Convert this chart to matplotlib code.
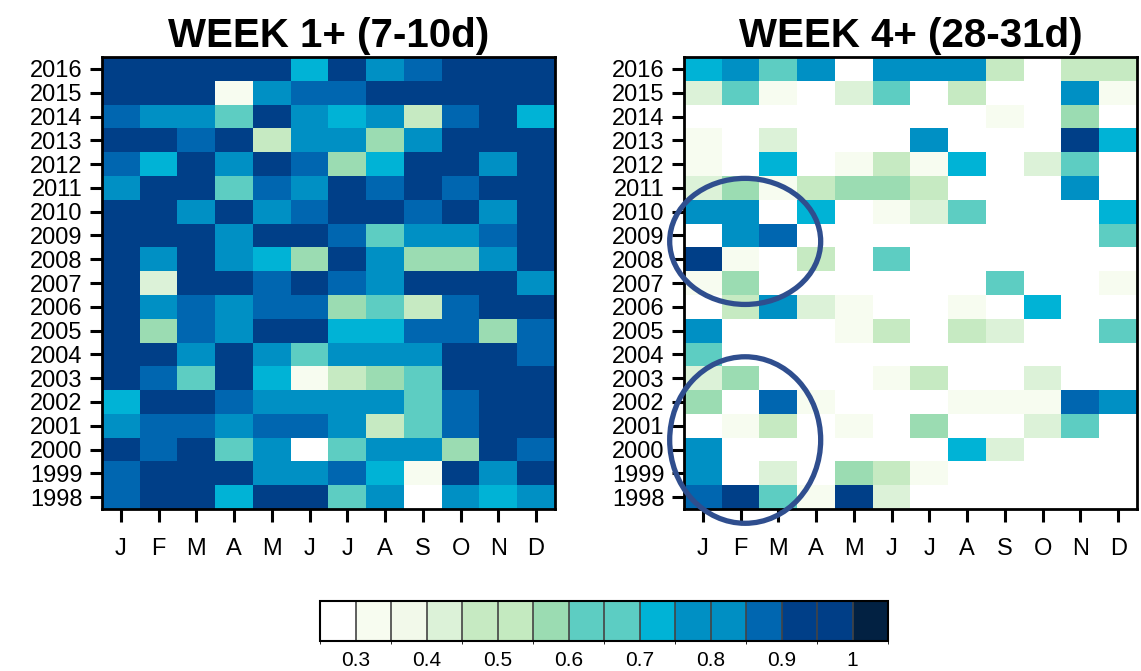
import numpy as np
import matplotlib
matplotlib.use("Agg")
import matplotlib.pyplot as plt
from matplotlib.colors import ListedColormap, BoundaryNorm
from matplotlib.cm import ScalarMappable
from matplotlib.patches import Ellipse

plt.rcParams["font.family"] = ["Liberation Sans", "DejaVu Sans"]

# -----------------------------------
# Data (rows listed top to bottom: 2016 ... 1998)
# -----------------------------------

months = ["J", "F", "M", "A", "M", "J", "J", "A", "S", "O", "N", "D"]
years = list(range(2016, 1997, -1))

week1 = [
    [.92, .92, .92, .92, .92, .72, .92, .77, .87, .92, .92, .92],
    [.92, .92, .92, .32, .77, .87, .87, .92, .92, .92, .92, .92],
    [.87, .77, .77, .62, .92, .77, .72, .77, .47, .87, .92, .72],
    [.92, .92, .87, .92, .47, .77, .77, .57, .77, .92, .92, .92],
    [.87, .72, .92, .77, .92, .87, .57, .72, .92, .92, .77, .92],
    [.77, .92, .92, .62, .87, .77, .92, .87, .92, .87, .92, .92],
    [.92, .92, .77, .92, .77, .87, .92, .92, .87, .92, .77, .92],
    [.92, .92, .92, .77, .92, .92, .87, .62, .77, .77, .87, .92],
    [.92, .77, .92, .77, .72, .57, .92, .77, .57, .57, .77, .92],
    [.92, .42, .92, .92, .87, .92, .87, .77, .92, .92, .92, .77],
    [.92, .77, .87, .77, .87, .87, .57, .62, .47, .87, .92, .92],
    [.92, .57, .87, .77, .92, .92, .72, .72, .87, .87, .57, .87],
    [.92, .92, .77, .92, .77, .62, .77, .77, .77, .92, .92, .87],
    [.92, .87, .62, .92, .72, .32, .47, .57, .62, .92, .92, .92],
    [.72, .92, .92, .87, .77, .77, .77, .77, .62, .87, .92, .92],
    [.77, .87, .87, .77, .87, .87, .77, .47, .62, .87, .92, .92],
    [.92, .87, .92, .62, .77, .27, .62, .77, .77, .57, .92, .87],
    [.87, .92, .92, .92, .77, .77, .87, .72, .32, .92, .77, .92],
    [.87, .92, .92, .72, .92, .92, .62, .77, .27, .77, .72, .77],
]

week4 = [
    [.72, .77, .62, .77, .27, .77, .77, .77, .47, .27, .47, .47],
    [.42, .62, .32, .27, .42, .62, .27, .47, .27, .27, .77, .32],
    [.27, .27, .27, .27, .27, .27, .27, .27, .32, .27, .57, .27],
    [.32, .27, .42, .27, .27, .27, .77, .27, .27, .27, .92, .72],
    [.32, .27, .72, .27, .32, .47, .32, .72, .27, .42, .62, .27],
    [.42, .57, .32, .47, .57, .57, .47, .27, .27, .27, .77, .27],
    [.77, .77, .27, .72, .27, .32, .42, .62, .27, .27, .27, .72],
    [.27, .77, .87, .27, .27, .27, .27, .27, .27, .27, .27, .62],
    [.92, .32, .27, .47, .27, .62, .27, .27, .27, .27, .27, .27],
    [.32, .57, .27, .27, .27, .27, .27, .27, .62, .27, .27, .32],
    [.27, .47, .77, .42, .32, .27, .27, .32, .27, .72, .27, .27],
    [.77, .27, .27, .27, .32, .47, .27, .47, .42, .27, .27, .62],
    [.62, .27, .27, .27, .27, .27, .27, .27, .27, .27, .27, .27],
    [.42, .57, .27, .27, .27, .32, .47, .27, .27, .42, .27, .27],
    [.57, .27, .87, .32, .27, .27, .27, .32, .32, .32, .87, .77],
    [.27, .32, .47, .27, .32, .27, .57, .27, .27, .42, .62, .27],
    [.77, .27, .27, .27, .27, .27, .27, .72, .42, .27, .27, .27],
    [.77, .27, .42, .27, .57, .47, .32, .27, .27, .27, .27, .27],
    [.87, .92, .62, .32, .92, .42, .27, .27, .27, .27, .27, .27],
]

titles = ["WEEK 1+ (7-10d)", "WEEK 4+ (28-31d)"]

levels = [0.25, 0.3, 0.35, 0.4, 0.45, 0.5, 0.55, 0.6, 0.65,
          0.7, 0.75, 0.8, 0.85, 0.9, 0.95, 1.0, 1.05]
level_ticks = [0.3, 0.4, 0.5, 0.6, 0.7, 0.8, 0.9, 1.0]
level_labels = ["0.3", "0.4", "0.5", "0.6", "0.7", "0.8", "0.9", "1"]

colors = ["#ffffff", "#f7fcf0", "#f2f9ea", "#dcf2d8", "#c6eac2", "#c4eac0",
          "#9bdcb2", "#5dcdc2", "#5ccdc3", "#00b3d6", "#0090c4", "#008fc3",
          "#0066b0", "#003f88", "#003e87", "#022142"]

cmap = ListedColormap(colors)
norm = BoundaryNorm(levels, cmap.N)

# -----------------------------------
# Figure
# -----------------------------------

fig = plt.figure(figsize=(11.41, 6.71), dpi=100)

ax1 = fig.add_axes([0.0894, 0.2414, 0.397, 0.6736])
ax2 = fig.add_axes([0.5995, 0.2414, 0.397, 0.6736])

for ax, data, title in zip([ax1, ax2], [week1, week4], titles):
    arr = np.array(data)[::-1]
    ax.imshow(arr, cmap=cmap, norm=norm, origin="lower", aspect="auto",
              interpolation="nearest")
    ax.set_xticks(range(len(months)))
    ax.set_xticklabels(months, fontsize=17)
    ax.set_yticks(range(len(years)))
    ax.set_yticklabels(years[::-1], fontsize=17)
    ax.tick_params(direction="out", length=9, width=2.2)
    ax.tick_params(axis="y", pad=5)
    ax.tick_params(axis="x", pad=12)
    for s in ax.spines.values():
        s.set_linewidth(2.0)
    ax.set_title(title, fontsize=29, fontweight="bold", pad=7)

# circles highlighting Jan-Mar on the week 4 panel
for cx, cy, w, h in [(1.12, 10.75, 4.0, 5.3), (1.12, 2.4, 4.0, 7.0)]:
    ax2.add_patch(Ellipse((cx, cy), w, h, fill=False, edgecolor="#2f4e8e",
                          linewidth=3.8, clip_on=False, zorder=5))

# -----------------------------------
# Colorbar
# -----------------------------------

cax = fig.add_axes([0.2805, 0.0447, 0.4978, 0.0596])
sm = ScalarMappable(norm=norm, cmap=cmap)
cb = fig.colorbar(sm, cax=cax, orientation="horizontal", drawedges=True,
                  ticks=level_ticks)
cb.set_ticklabels(level_labels)
cb.ax.tick_params(length=0, labelsize=15, pad=7)
cb.outline.set_linewidth(1.5)
cb.dividers.set_color("#444444")
cb.dividers.set_linewidth(1.2)

fig.savefig("out.png", dpi=100)
